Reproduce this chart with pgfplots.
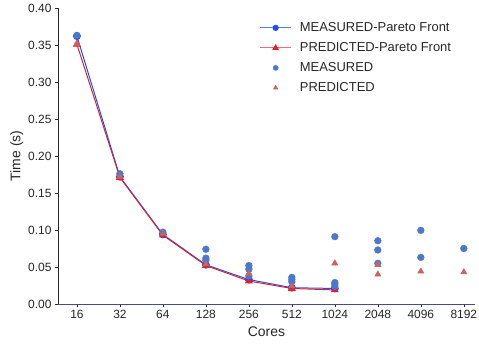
\documentclass[border=0pt]{standalone}
\usepackage{pgfplots}
\pgfplotsset{compat=1.18}
\usepackage{fontspec}
\setmainfont{Liberation Sans}
\definecolor{pblue}{HTML}{1F4FF0}
\definecolor{pred}{HTML}{E0202A}
\definecolor{sblue}{HTML}{4C78CC}
\definecolor{sred}{HTML}{D06062}
\definecolor{lblue}{HTML}{5A80F0}
\definecolor{lred}{HTML}{E8707A}
\definecolor{txt}{HTML}{262626}
\definecolor{xaxis}{HTML}{4A4A8A}
\pgfplotsset{
  bluelegend/.style={legend image code/.code={\draw[draw=lblue, line width=1.3pt] (0cm,0cm) -- (1.1cm,0cm); \fill[fill=pblue] (0.55cm,0cm) circle (2.6bp);}},
  redlegend/.style={legend image code/.code={\draw[draw=lred, line width=1.3pt] (0cm,0cm) -- (1.1cm,0cm); \fill[fill=pred] (0.55cm,2.8bp) -- (0.55cm-2.5bp,-1.5bp) -- (0.55cm+2.5bp,-1.5bp) -- cycle;}},
  centermark legend/.style={legend image code/.code={\draw[##1, mark size=2.6bp] plot coordinates {(0.55cm,0cm)};}},
}
\begin{document}
\begin{tikzpicture}
\begin{axis}[
  scale only axis,
  width=417bp, height=296bp,
  xmin=-0.44, xmax=9.26,
  ymin=0, ymax=0.40,
  axis x line*=bottom, axis y line*=left,
  x axis line style={color=xaxis, line width=0.9pt},
  y axis line style={color=txt, line width=0.9pt},
  xtick={0,...,9},
  xticklabels={16,32,64,128,256,512,1024,2048,4096,8192},
  ytick={0,0.05,...,0.41},
  yticklabel style={/pgf/number format/.cd,fixed,fixed zerofill,precision=2},
  /pgf/number format/assume math mode=true,
  tick align=outside,
  major tick length=3bp,
  tick style={color=txt, line width=0.6pt},
  ticklabel style={font=\fontsize{12}{14}\selectfont, text=txt},
  xlabel={Cores}, ylabel={Time (s)},
  label style={font=\fontsize{14}{16}\selectfont, text=txt},
  xlabel style={yshift=-1bp},
  ylabel style={yshift=-2bp},
  clip=false,
  legend style={draw=none, fill=none, at={(0.955,0.965)}, anchor=north east,
    font=\fontsize{13}{15}\selectfont\color{txt}, row sep=5.5bp,
    /tikz/every odd column/.append style={column sep=6bp}},
  legend cell align=left,
]
\addplot[color=pblue, line width=1pt, mark=*, mark size=3.4bp, mark options={fill=pblue, draw=pblue}, bluelegend]
  coordinates {(0,0.362) (1,0.172) (2,0.094) (3,0.053) (4,0.033) (5,0.022) (6,0.021)};
\addlegendentry{MEASURED-Pareto Front}
\addplot[color=pred, line width=1pt, mark=triangle*, mark size=3.6bp, mark options={fill=pred, draw=pred}, redlegend]
  coordinates {(0,0.351) (1,0.171) (2,0.093) (3,0.052) (4,0.031) (5,0.021) (6,0.019)};
\addlegendentry{PREDICTED-Pareto Front}
\addplot[only marks, mark=*, mark size=3.4bp, color=sblue, mark options={fill=sblue, draw=sblue}, centermark legend]
  coordinates {(0,0.363) (1,0.176) (2,0.097)
   (3,0.074) (3,0.062) (3,0.059)
   (4,0.052) (4,0.047) (4,0.038)
   (5,0.036) (5,0.033) (5,0.030)
   (6,0.091) (6,0.029) (6,0.027) (6,0.024)
   (7,0.0855) (7,0.073) (7,0.055)
   (8,0.0995) (8,0.063)
   (9,0.075)};
\addlegendentry{MEASURED}
\addplot[only marks, mark=triangle*, mark size=3.6bp, color=sred, mark options={fill=sred, draw=sred}, centermark legend]
  coordinates {(0,0.352) (1,0.172) (2,0.095) (3,0.054)
   (4,0.041) (5,0.024)
   (6,0.055) (7,0.053) (7,0.040) (8,0.044) (9,0.043)};
\addlegendentry{PREDICTED}
\end{axis}
\pgfresetboundingbox
\path[use as bounding box] (-58bp,-40bp) rectangle (421bp,304bp);
\end{tikzpicture}
\end{document}
